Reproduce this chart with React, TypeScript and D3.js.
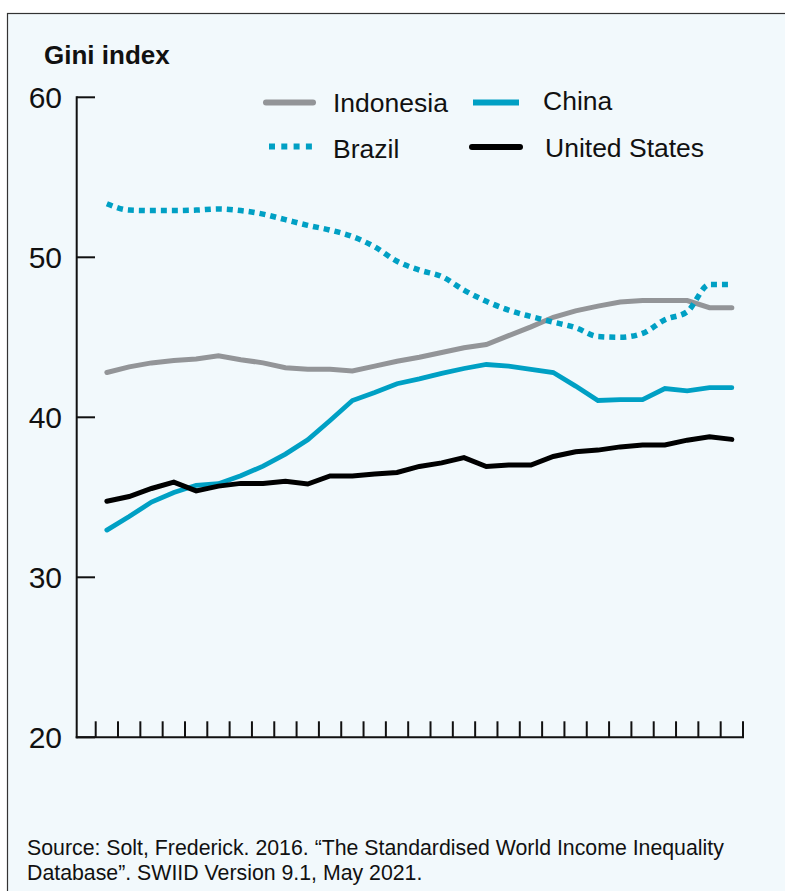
import React from "react";
import * as d3 from "d3";

const years = d3.range(1990, 2019);
const indonesia = [42.8, 43.15, 43.4, 43.55, 43.65, 43.85, 43.6, 43.4, 43.1, 43.0, 43.0, 42.9, 43.2, 43.5, 43.75, 44.05, 44.35, 44.55, 45.1, 45.65, 46.25, 46.65, 46.95, 47.2, 47.3, 47.3, 47.3, 46.85, 46.85];
const china = [32.95, 33.8, 34.7, 35.3, 35.75, 35.85, 36.35, 36.95, 37.7, 38.6, 39.8, 41.05, 41.55, 42.1, 42.4, 42.75, 43.05, 43.3, 43.2, 43.0, 42.8, 41.95, 41.05, 41.1, 41.1, 41.8, 41.65, 41.85, 41.85];
const brazil = [53.35, 52.95, 52.92, 52.92, 52.95, 53.02, 52.92, 52.7, 52.35, 52.0, 51.7, 51.3, 50.65, 49.75, 49.2, 48.8, 47.95, 47.25, 46.7, 46.3, 45.95, 45.6, 45.05, 45.0, 45.25, 46.1, 46.6, 48.3, 48.3];
const unitedStates = [34.75, 35.05, 35.55, 35.95, 35.4, 35.7, 35.87, 35.87, 36.0, 35.83, 36.33, 36.33, 36.45, 36.55, 36.93, 37.15, 37.48, 36.92, 37.02, 37.02, 37.55, 37.85, 37.95, 38.15, 38.27, 38.27, 38.57, 38.78, 38.62];
const yTicks = [20, 30, 40, 50, 60];

const GREY = "#939598";
const TEAL = "#00a0c4";
const INK = "#111111";
const FONT = "'Liberation Sans', Arial, Helvetica, sans-serif";

export default function App() {
  const x = d3.scaleBand<number>().domain(years).range([95.7, 743]);
  const y = d3.scaleLinear().domain([20, 60]).range([737.3, 97.3]);
  const cx = (d: number) => (x(d) as number) + x.bandwidth() / 2;

  const line = d3
    .line<number>()
    .x((_, i) => cx(years[i]))
    .y((v) => y(v));
  const smooth = d3
    .line<number>()
    .x((_, i) => cx(years[i]))
    .y((v) => y(v))
    .curve(d3.curveMonotoneX);

  const tickXs = years.map((yr) => x(yr) as number).concat([743]);

  return (
    <svg
      width={785}
      height={891}
      style={{ position: "absolute", left: 0, top: 0, background: "#ffffff" }}
      fontFamily={FONT}
    >
      <rect x={7.5} y={13.5} width={800} height={900} fill="#f2f9fc" stroke="#333" strokeWidth={1.2} />

      <text x={44} y={64} fontSize={26} fontWeight="bold" fill={INK}>Gini index</text>

      {/* y axis */}
      <line x1={76.7} x2={76.7} y1={y(60) - 1} y2={y(20) + 1} stroke={INK} strokeWidth={2} />
      {yTicks.map((t) => (
        <g key={t}>
          <line x1={76.7} x2={95} y1={y(t)} y2={y(t)} stroke={INK} strokeWidth={2} />
          <text x={62} y={y(t) + 11} fontSize={30} textAnchor="end" fill={INK}>{t}</text>
        </g>
      ))}

      {/* x axis */}
      <line x1={75.7} x2={744} y1={y(20)} y2={y(20)} stroke={INK} strokeWidth={2} />
      {tickXs.map((tx, i) => (
        <line key={i} x1={tx} x2={tx} y1={y(20)} y2={y(20) - 16} stroke={INK} strokeWidth={2} />
      ))}

      {/* series */}
      <path d={line(indonesia) || ""} fill="none" stroke={GREY} strokeWidth={5} strokeLinecap="round" strokeLinejoin="miter" />
      <path d={smooth(brazil) || ""} fill="none" stroke={TEAL} strokeWidth={5.5} strokeDasharray="6,5" />
      <path d={line(china) || ""} fill="none" stroke={TEAL} strokeWidth={4.8} strokeLinecap="round" strokeLinejoin="miter" />
      <path d={line(unitedStates) || ""} fill="none" stroke="#000" strokeWidth={5} strokeLinecap="round" strokeLinejoin="miter" />

      {/* legend */}
      <line x1={266} x2={313} y1={102.5} y2={102.5} stroke={GREY} strokeWidth={6} strokeLinecap="round" />
      <text x={333} y={111.5} fontSize={26.5} fill={INK}>Indonesia</text>
      <line x1={473} x2={519} y1={102.5} y2={102.5} stroke={TEAL} strokeWidth={6} />
      <text x={543} y={109.5} fontSize={26.5} fill={INK}>China</text>
      <line x1={269} x2={317} y1={146.5} y2={146.5} stroke={TEAL} strokeWidth={6} strokeDasharray="6,6.3" />
      <text x={333} y={157.5} fontSize={26.5} fill={INK}>Brazil</text>
      <line x1={472} x2={520} y1={147} y2={147} stroke="#000" strokeWidth={6} strokeLinecap="round" />
      <text x={545} y={156.5} fontSize={26.5} fill={INK}>United States</text>

      {/* source */}
      <text x={27} y={855} fontSize={21.3} fill={INK}>Source: Solt, Frederick. 2016. “The Standardised World Income Inequality</text>
      <text x={27} y={880} fontSize={21.3} fill={INK}>Database”. SWIID Version 9.1, May 2021.</text>
    </svg>
  );
}
